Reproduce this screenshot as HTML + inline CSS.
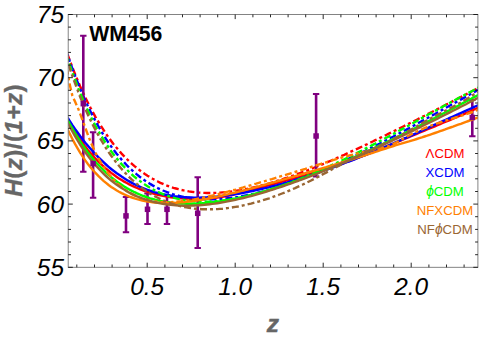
<!DOCTYPE html>
<html><head><meta charset="utf-8"><style>
html,body{margin:0;padding:0;background:#fff;}
svg{display:block;font-family:"Liberation Sans",sans-serif;}
.tl{font-size:24.4px;font-style:italic;fill:#000;}
.lg{font-size:13.2px;}
.up{font-style:normal;}
.ax{font-size:24.5px;font-style:italic;font-weight:bold;fill:#666;}
</style></head><body>
<svg width="480" height="338" viewBox="0 0 480 338">
<rect width="480" height="338" fill="#fff"/>
<defs><clipPath id="c"><rect x="68.2" y="14.5" width="409.7" height="252.8"/></clipPath></defs>
<g clip-path="url(#c)">
<path d="M67.2,53.4 L69.8,60.6 L72.4,67.4 L75.0,73.9 L77.6,80.2 L80.1,86.2 L82.7,92.0 L85.3,97.5 L87.9,102.7 L90.5,107.8 L93.1,112.6 L95.7,117.3 L98.3,121.7 L100.9,125.9 L103.5,129.9 L106.0,133.8 L108.6,137.5 L111.2,141.0 L113.8,144.4 L116.4,147.6 L119.0,150.6 L121.6,153.6 L124.2,156.3 L126.8,159.0 L129.3,161.5 L131.9,163.8 L134.5,166.1 L137.1,168.2 L139.7,170.3 L142.3,172.2 L144.9,174.0 L147.5,175.7 L150.1,177.3 L152.6,178.8 L155.2,180.2 L157.8,181.5 L160.4,182.8 L163.0,183.9 L165.6,185.0 L168.2,186.0 L170.8,186.9 L173.4,187.8 L176.0,188.5 L178.5,189.2 L181.1,189.9 L183.7,190.4 L186.3,190.9 L188.9,191.4 L191.5,191.8 L194.1,192.1 L196.7,192.4 L199.3,192.6 L201.8,192.8 L204.4,192.9 L207.0,193.0 L209.6,193.0 L212.2,193.0 L214.8,192.9 L217.4,192.8 L220.0,192.6 L222.6,192.4 L225.1,192.2 L227.7,192.0 L230.3,191.6 L232.9,191.3 L235.5,190.9 L238.1,190.5 L240.7,190.1 L243.3,189.6 L245.9,189.1 L248.5,188.6 L251.0,188.0 L253.6,187.4 L256.2,186.8 L258.8,186.2 L261.4,185.5 L264.0,184.8 L266.6,184.1 L269.2,183.4 L271.8,182.6 L274.3,181.8 L276.9,181.0 L279.5,180.2 L282.1,179.4 L284.7,178.5 L287.3,177.7 L289.9,176.8 L292.5,175.9 L295.1,174.9 L297.6,174.0 L300.2,173.0 L302.8,172.0 L305.4,171.1 L308.0,170.1 L310.6,169.0 L313.2,168.0 L315.8,167.0 L318.4,165.9 L321.0,164.8 L323.5,163.8 L326.1,162.7 L328.7,161.6 L331.3,160.5 L333.9,159.3 L336.5,158.2 L339.1,157.1 L341.7,155.9 L344.3,154.8 L346.8,153.6 L349.4,152.4 L352.0,151.2 L354.6,150.0 L357.2,148.8 L359.8,147.6 L362.4,146.4 L365.0,145.2 L367.6,144.0 L370.1,142.7 L372.7,141.5 L375.3,140.2 L377.9,139.0 L380.5,137.7 L383.1,136.5 L385.7,135.2 L388.3,133.9 L390.9,132.7 L393.5,131.4 L396.0,130.1 L398.6,128.8 L401.2,127.5 L403.8,126.2 L406.4,124.9 L409.0,123.6 L411.6,122.3 L414.2,121.0 L416.8,119.7 L419.3,118.4 L421.9,117.1 L424.5,115.8 L427.1,114.4 L429.7,113.1 L432.3,111.8 L434.9,110.5 L437.5,109.1 L440.1,107.8 L442.6,106.5 L445.2,105.1 L447.8,103.8 L450.4,102.4 L453.0,101.1 L455.6,99.8 L458.2,98.4 L460.8,97.1 L463.4,95.7 L466.0,94.4 L468.5,93.0 L471.1,91.7 L473.7,90.3 L476.3,89.0 L478.9,87.7" fill="none" stroke="#ff0000" stroke-width="2.4" stroke-dasharray="7 3 3 3" stroke-dashoffset="0.0"/>
<path d="M67.2,53.7 L69.8,61.3 L72.4,68.6 L75.0,75.6 L77.6,82.3 L80.1,88.6 L82.7,94.7 L85.3,100.6 L87.9,106.2 L90.5,111.5 L93.1,116.6 L95.7,121.5 L98.3,126.2 L100.9,130.6 L103.5,134.9 L106.0,138.9 L108.6,142.8 L111.2,146.5 L113.8,150.0 L116.4,153.4 L119.0,156.5 L121.6,159.6 L124.2,162.4 L126.8,165.2 L129.3,167.8 L131.9,170.2 L134.5,172.5 L137.1,174.7 L139.7,176.8 L142.3,178.7 L144.9,180.5 L147.5,182.2 L150.1,183.9 L152.6,185.4 L155.2,186.8 L157.8,188.1 L160.4,189.3 L163.0,190.5 L165.6,191.5 L168.2,192.5 L170.8,193.4 L173.4,194.3 L176.0,195.0 L178.5,195.7 L181.1,196.3 L183.7,196.9 L186.3,197.4 L188.9,197.8 L191.5,198.2 L194.1,198.5 L196.7,198.8 L199.3,199.0 L201.8,199.2 L204.4,199.3 L207.0,199.3 L209.6,199.3 L212.2,199.3 L214.8,199.2 L217.4,199.1 L220.0,199.0 L222.6,198.8 L225.1,198.6 L227.7,198.3 L230.3,198.0 L232.9,197.6 L235.5,197.3 L238.1,196.9 L240.7,196.4 L243.3,195.9 L245.9,195.4 L248.5,194.9 L251.0,194.4 L253.6,193.8 L256.2,193.2 L258.8,192.5 L261.4,191.9 L264.0,191.2 L266.6,190.5 L269.2,189.7 L271.8,189.0 L274.3,188.2 L276.9,187.4 L279.5,186.6 L282.1,185.8 L284.7,184.9 L287.3,184.0 L289.9,183.1 L292.5,182.2 L295.1,181.3 L297.6,180.3 L300.2,179.4 L302.8,178.4 L305.4,177.4 L308.0,176.4 L310.6,175.4 L313.2,174.3 L315.8,173.3 L318.4,172.2 L321.0,171.1 L323.5,170.0 L326.1,168.9 L328.7,167.8 L331.3,166.7 L333.9,165.5 L336.5,164.4 L339.1,163.2 L341.7,162.0 L344.3,160.8 L346.8,159.6 L349.4,158.4 L352.0,157.2 L354.6,156.0 L357.2,154.7 L359.8,153.5 L362.4,152.2 L365.0,151.0 L367.6,149.7 L370.1,148.4 L372.7,147.1 L375.3,145.8 L377.9,144.5 L380.5,143.2 L383.1,141.9 L385.7,140.5 L388.3,139.2 L390.9,137.8 L393.5,136.5 L396.0,135.1 L398.6,133.7 L401.2,132.4 L403.8,131.0 L406.4,129.6 L409.0,128.2 L411.6,126.8 L414.2,125.4 L416.8,124.0 L419.3,122.5 L421.9,121.1 L424.5,119.7 L427.1,118.3 L429.7,116.8 L432.3,115.4 L434.9,114.0 L437.5,112.5 L440.1,111.1 L442.6,109.6 L445.2,108.2 L447.8,106.8 L450.4,105.3 L453.0,103.9 L455.6,102.4 L458.2,101.0 L460.8,99.6 L463.4,98.1 L466.0,96.7 L468.5,95.2 L471.1,93.8 L473.7,92.4 L476.3,90.9 L478.9,89.4" fill="none" stroke="#0000ff" stroke-width="2.4" stroke-dasharray="7 3 3 3" stroke-dashoffset="4.5"/>
<path d="M83.3,35.8 V171.8" stroke="#800080" stroke-width="2.6" fill="none"/><path d="M80.1,35.8 h6.4 M80.1,171.8 h6.4" stroke="#800080" stroke-width="2" fill="none"/>
<path d="M93.1,132.2 V197.7" stroke="#800080" stroke-width="2.6" fill="none"/><path d="M89.9,132.2 h6.4 M89.9,197.7 h6.4" stroke="#800080" stroke-width="2" fill="none"/>
<path d="M126.0,197.0 V232.2" stroke="#800080" stroke-width="2.6" fill="none"/><path d="M122.8,197.0 h6.4 M122.8,232.2 h6.4" stroke="#800080" stroke-width="2" fill="none"/>
<path d="M147.5,193.5 V224.0" stroke="#800080" stroke-width="2.6" fill="none"/><path d="M144.3,193.5 h6.4 M144.3,224.0 h6.4" stroke="#800080" stroke-width="2" fill="none"/>
<path d="M167.0,195.0 V224.0" stroke="#800080" stroke-width="2.6" fill="none"/><path d="M163.8,195.0 h6.4 M163.8,224.0 h6.4" stroke="#800080" stroke-width="2" fill="none"/>
<path d="M197.7,177.2 V248.1" stroke="#800080" stroke-width="2.6" fill="none"/><path d="M194.5,177.2 h6.4 M194.5,248.1 h6.4" stroke="#800080" stroke-width="2" fill="none"/>
<path d="M316.1,94.1 V176.5" stroke="#800080" stroke-width="2.6" fill="none"/><path d="M312.9,94.1 h6.4 M312.9,176.5 h6.4" stroke="#800080" stroke-width="2" fill="none"/>
<path d="M472.3,100.0 V136.3" stroke="#800080" stroke-width="2.6" fill="none"/><path d="M469.1,100.0 h6.4 M469.1,136.3 h6.4" stroke="#800080" stroke-width="2" fill="none"/>
<path d="M67.2,118.3 L69.8,123.0 L72.4,127.4 L75.0,131.6 L77.6,135.7 L80.1,139.5 L82.7,143.1 L85.3,146.6 L87.9,149.9 L90.5,153.0 L93.1,156.0 L95.7,158.8 L98.3,161.5 L100.9,164.0 L103.5,166.4 L106.0,168.7 L108.6,170.8 L111.2,172.9 L113.8,174.8 L116.4,176.7 L119.0,178.4 L121.6,180.0 L124.2,181.6 L126.8,183.0 L129.3,184.4 L131.9,185.7 L134.5,186.9 L137.1,188.0 L139.7,189.1 L142.3,190.1 L144.9,191.0 L147.5,191.9 L150.1,192.7 L152.6,193.4 L155.2,194.1 L157.8,194.8 L160.4,195.4 L163.0,195.9 L165.6,196.4 L168.2,196.8 L170.8,197.2 L173.4,197.6 L176.0,197.9 L178.5,198.2 L181.1,198.4 L183.7,198.6 L186.3,198.8 L188.9,198.9 L191.5,199.0 L194.1,199.0 L196.7,199.0 L199.3,198.9 L201.8,198.8 L204.4,198.7 L207.0,198.5 L209.6,198.3 L212.2,198.1 L214.8,197.8 L217.4,197.5 L220.0,197.1 L222.6,196.7 L225.1,196.3 L227.7,195.8 L230.3,195.3 L232.9,194.8 L235.5,194.2 L238.1,193.5 L240.7,192.9 L243.3,192.2 L245.9,191.5 L248.5,190.8 L251.0,190.1 L253.6,189.4 L256.2,188.7 L258.8,188.0 L261.4,187.3 L264.0,186.6 L266.6,185.9 L269.2,185.2 L271.8,184.5 L274.3,183.8 L276.9,183.1 L279.5,182.4 L282.1,181.7 L284.7,181.0 L287.3,180.2 L289.9,179.5 L292.5,178.8 L295.1,178.1 L297.6,177.4 L300.2,176.6 L302.8,175.9 L305.4,175.2 L308.0,174.4 L310.6,173.7 L313.2,172.9 L315.8,172.1 L318.4,171.3 L321.0,170.5 L323.5,169.7 L326.1,168.9 L328.7,168.1 L331.3,167.3 L333.9,166.4 L336.5,165.5 L339.1,164.7 L341.7,163.8 L344.3,162.9 L346.8,161.9 L349.4,161.0 L352.0,160.0 L354.6,159.1 L357.2,158.1 L359.8,157.1 L362.4,156.1 L365.0,155.1 L367.6,154.1 L370.1,153.1 L372.7,152.0 L375.3,151.0 L377.9,150.0 L380.5,148.9 L383.1,147.8 L385.7,146.8 L388.3,145.7 L390.9,144.6 L393.5,143.6 L396.0,142.5 L398.6,141.4 L401.2,140.3 L403.8,139.2 L406.4,138.1 L409.0,137.1 L411.6,136.0 L414.2,134.9 L416.8,133.8 L419.3,132.7 L421.9,131.6 L424.5,130.6 L427.1,129.5 L429.7,128.4 L432.3,127.3 L434.9,126.3 L437.5,125.2 L440.1,124.1 L442.6,123.0 L445.2,122.0 L447.8,120.9 L450.4,119.8 L453.0,118.7 L455.6,117.6 L458.2,116.5 L460.8,115.4 L463.4,114.3 L466.0,113.1 L468.5,112.0 L471.1,110.8 L473.7,109.7 L476.3,108.6 L478.9,107.4" fill="none" stroke="#ff0000" stroke-width="2.4"/>
<path d="M67.2,117.0 L69.8,121.1 L72.4,125.1 L75.0,128.9 L77.6,132.5 L80.1,136.0 L82.7,139.4 L85.3,142.7 L87.9,145.8 L90.5,148.8 L93.1,151.7 L95.7,154.5 L98.3,157.2 L100.9,159.7 L103.5,162.2 L106.0,164.5 L108.6,166.8 L111.2,169.0 L113.8,171.0 L116.4,173.0 L119.0,174.8 L121.6,176.6 L124.2,178.3 L126.8,179.9 L129.3,181.4 L131.9,182.9 L134.5,184.2 L137.1,185.5 L139.7,186.7 L142.3,187.8 L144.9,188.8 L147.5,189.8 L150.1,190.7 L152.6,191.5 L155.2,192.3 L157.8,193.0 L160.4,193.7 L163.0,194.3 L165.6,194.8 L168.2,195.3 L170.8,195.7 L173.4,196.1 L176.0,196.4 L178.5,196.7 L181.1,197.0 L183.7,197.2 L186.3,197.3 L188.9,197.5 L191.5,197.5 L194.1,197.6 L196.7,197.6 L199.3,197.6 L201.8,197.5 L204.4,197.4 L207.0,197.3 L209.6,197.1 L212.2,196.9 L214.8,196.7 L217.4,196.5 L220.0,196.2 L222.6,195.9 L225.1,195.6 L227.7,195.3 L230.3,194.9 L232.9,194.5 L235.5,194.1 L238.1,193.7 L240.7,193.3 L243.3,192.8 L245.9,192.3 L248.5,191.8 L251.0,191.3 L253.6,190.8 L256.2,190.2 L258.8,189.6 L261.4,189.0 L264.0,188.4 L266.6,187.8 L269.2,187.2 L271.8,186.5 L274.3,185.8 L276.9,185.2 L279.5,184.5 L282.1,183.8 L284.7,183.0 L287.3,182.3 L289.9,181.5 L292.5,180.8 L295.1,180.0 L297.6,179.2 L300.2,178.4 L302.8,177.6 L305.4,176.8 L308.0,176.0 L310.6,175.1 L313.2,174.3 L315.8,173.4 L318.4,172.5 L321.0,171.6 L323.5,170.7 L326.1,169.8 L328.7,168.9 L331.3,168.0 L333.9,167.1 L336.5,166.1 L339.1,165.2 L341.7,164.2 L344.3,163.2 L346.8,162.2 L349.4,161.3 L352.0,160.3 L354.6,159.3 L357.2,158.2 L359.8,157.2 L362.4,156.2 L365.0,155.2 L367.6,154.1 L370.1,153.1 L372.7,152.0 L375.3,150.9 L377.9,149.9 L380.5,148.8 L383.1,147.7 L385.7,146.6 L388.3,145.5 L390.9,144.4 L393.5,143.3 L396.0,142.1 L398.6,141.0 L401.2,139.9 L403.8,138.7 L406.4,137.6 L409.0,136.4 L411.6,135.3 L414.2,134.1 L416.8,133.0 L419.3,131.8 L421.9,130.6 L424.5,129.4 L427.1,128.3 L429.7,127.1 L432.3,125.9 L434.9,124.7 L437.5,123.6 L440.1,122.4 L442.6,121.2 L445.2,120.0 L447.8,118.9 L450.4,117.7 L453.0,116.5 L455.6,115.3 L458.2,114.2 L460.8,113.0 L463.4,111.8 L466.0,110.7 L468.5,109.5 L471.1,108.4 L473.7,107.2 L476.3,106.0 L478.9,104.8" fill="none" stroke="#0000ff" stroke-width="2.4"/>
<path d="M67.2,119.2 L69.8,124.1 L72.4,128.7 L75.0,133.2 L77.6,137.4 L80.1,141.4 L82.7,145.3 L85.3,149.0 L87.9,152.5 L90.5,155.8 L93.1,158.9 L95.7,162.0 L98.3,164.8 L100.9,167.5 L103.5,170.1 L106.0,172.6 L108.6,174.9 L111.2,177.1 L113.8,179.2 L116.4,181.2 L119.0,183.1 L121.6,184.8 L124.2,186.5 L126.8,188.1 L129.3,189.5 L131.9,190.9 L134.5,192.2 L137.1,193.4 L139.7,194.5 L142.3,195.6 L144.9,196.5 L147.5,197.4 L150.1,198.3 L152.6,199.0 L155.2,199.7 L157.8,200.3 L160.4,200.9 L163.0,201.4 L165.6,201.9 L168.2,202.3 L170.8,202.6 L173.4,202.9 L176.0,203.2 L178.5,203.4 L181.1,203.5 L183.7,203.6 L186.3,203.7 L188.9,203.7 L191.5,203.7 L194.1,203.6 L196.7,203.6 L199.3,203.4 L201.8,203.3 L204.4,203.1 L207.0,202.9 L209.6,202.6 L212.2,202.3 L214.8,202.0 L217.4,201.6 L220.0,201.3 L222.6,200.9 L225.1,200.4 L227.7,200.0 L230.3,199.5 L232.9,199.0 L235.5,198.5 L238.1,197.9 L240.7,197.4 L243.3,196.8 L245.9,196.2 L248.5,195.5 L251.0,194.9 L253.6,194.2 L256.2,193.5 L258.8,192.8 L261.4,192.1 L264.0,191.4 L266.6,190.6 L269.2,189.8 L271.8,189.0 L274.3,188.2 L276.9,187.4 L279.5,186.6 L282.1,185.7 L284.7,184.8 L287.3,184.0 L289.9,183.1 L292.5,182.2 L295.1,181.2 L297.6,180.3 L300.2,179.4 L302.8,178.4 L305.4,177.4 L308.0,176.5 L310.6,175.5 L313.2,174.5 L315.8,173.4 L318.4,172.4 L321.0,171.4 L323.5,170.3 L326.1,169.3 L328.7,168.2 L331.3,167.1 L333.9,166.1 L336.5,165.0 L339.1,163.9 L341.7,162.8 L344.3,161.6 L346.8,160.5 L349.4,159.4 L352.0,158.2 L354.6,157.1 L357.2,155.9 L359.8,154.7 L362.4,153.6 L365.0,152.4 L367.6,151.2 L370.1,150.0 L372.7,148.8 L375.3,147.6 L377.9,146.3 L380.5,145.1 L383.1,143.9 L385.7,142.6 L388.3,141.4 L390.9,140.1 L393.5,138.9 L396.0,137.6 L398.6,136.3 L401.2,135.0 L403.8,133.7 L406.4,132.4 L409.0,131.1 L411.6,129.8 L414.2,128.5 L416.8,127.2 L419.3,125.9 L421.9,124.6 L424.5,123.2 L427.1,121.9 L429.7,120.6 L432.3,119.2 L434.9,117.9 L437.5,116.5 L440.1,115.2 L442.6,113.8 L445.2,112.5 L447.8,111.1 L450.4,109.8 L453.0,108.4 L455.6,107.0 L458.2,105.7 L460.8,104.3 L463.4,102.9 L466.0,101.5 L468.5,100.1 L471.1,98.8 L473.7,97.4 L476.3,96.0 L478.9,94.6" fill="none" stroke="#00ff00" stroke-width="2.4"/>
<path d="M67.2,57.1 L69.8,64.9 L72.4,72.4 L75.0,79.5 L77.6,86.4 L80.1,92.9 L82.7,99.1 L85.3,105.0 L87.9,110.7 L90.5,116.1 L93.1,121.3 L95.7,126.2 L98.3,130.9 L100.9,135.3 L103.5,139.6 L106.0,143.7 L108.6,147.5 L111.2,151.2 L113.8,154.7 L116.4,158.0 L119.0,161.1 L121.6,164.1 L124.2,166.9 L126.8,169.6 L129.3,172.1 L131.9,174.5 L134.5,176.8 L137.1,178.9 L139.7,180.9 L142.3,182.8 L144.9,184.6 L147.5,186.2 L150.1,187.8 L152.6,189.2 L155.2,190.6 L157.8,191.9 L160.4,193.0 L163.0,194.1 L165.6,195.1 L168.2,196.0 L170.8,196.8 L173.4,197.6 L176.0,198.3 L178.5,198.9 L181.1,199.4 L183.7,199.9 L186.3,200.3 L188.9,200.7 L191.5,201.0 L194.1,201.2 L196.7,201.4 L199.3,201.5 L201.8,201.6 L204.4,201.7 L207.0,201.6 L209.6,201.6 L212.2,201.5 L214.8,201.3 L217.4,201.1 L220.0,200.9 L222.6,200.6 L225.1,200.3 L227.7,199.9 L230.3,199.5 L232.9,199.1 L235.5,198.7 L238.1,198.2 L240.7,197.7 L243.3,197.1 L245.9,196.5 L248.5,195.9 L251.0,195.3 L253.6,194.6 L256.2,193.9 L258.8,193.2 L261.4,192.5 L264.0,191.7 L266.6,190.9 L269.2,190.1 L271.8,189.3 L274.3,188.4 L276.9,187.6 L279.5,186.7 L282.1,185.8 L284.7,184.8 L287.3,183.9 L289.9,182.9 L292.5,181.9 L295.1,180.9 L297.6,179.9 L300.2,178.9 L302.8,177.8 L305.4,176.8 L308.0,175.7 L310.6,174.6 L313.2,173.5 L315.8,172.4 L318.4,171.3 L321.0,170.1 L323.5,169.0 L326.1,167.8 L328.7,166.6 L331.3,165.4 L333.9,164.2 L336.5,163.0 L339.1,161.8 L341.7,160.5 L344.3,159.3 L346.8,158.0 L349.4,156.7 L352.0,155.5 L354.6,154.2 L357.2,152.9 L359.8,151.6 L362.4,150.3 L365.0,148.9 L367.6,147.6 L370.1,146.3 L372.7,144.9 L375.3,143.6 L377.9,142.2 L380.5,140.8 L383.1,139.4 L385.7,138.0 L388.3,136.7 L390.9,135.3 L393.5,133.9 L396.0,132.4 L398.6,131.0 L401.2,129.6 L403.8,128.2 L406.4,126.8 L409.0,125.3 L411.6,123.9 L414.2,122.5 L416.8,121.0 L419.3,119.6 L421.9,118.1 L424.5,116.7 L427.1,115.3 L429.7,113.8 L432.3,112.4 L434.9,111.0 L437.5,109.6 L440.1,108.1 L442.6,106.7 L445.2,105.3 L447.8,103.9 L450.4,102.5 L453.0,101.1 L455.6,99.7 L458.2,98.3 L460.8,96.9 L463.4,95.6 L466.0,94.2 L468.5,92.9 L471.1,91.5 L473.7,90.2 L476.3,88.7 L478.9,87.3" fill="none" stroke="#00ff00" stroke-width="2.4" stroke-dasharray="7 3 3 3" stroke-dashoffset="9.0"/>
<path d="M67.2,128.3 L69.8,133.9 L72.4,139.0 L75.0,143.9 L77.6,148.4 L80.1,152.7 L82.7,156.7 L85.3,160.4 L87.9,163.9 L90.5,167.2 L93.1,170.3 L95.7,173.2 L98.3,175.9 L100.9,178.4 L103.5,180.8 L106.0,182.9 L108.6,185.0 L111.2,186.9 L113.8,188.6 L116.4,190.2 L119.0,191.7 L121.6,193.1 L124.2,194.4 L126.8,195.5 L129.3,196.6 L131.9,197.5 L134.5,198.4 L137.1,199.2 L139.7,199.9 L142.3,200.5 L144.9,201.1 L147.5,201.5 L150.1,201.9 L152.6,202.3 L155.2,202.5 L157.8,202.7 L160.4,202.9 L163.0,203.0 L165.6,203.0 L168.2,203.0 L170.8,203.0 L173.4,202.9 L176.0,202.8 L178.5,202.6 L181.1,202.4 L183.7,202.2 L186.3,201.9 L188.9,201.6 L191.5,201.3 L194.1,200.9 L196.7,200.5 L199.3,200.1 L201.8,199.7 L204.4,199.2 L207.0,198.8 L209.6,198.3 L212.2,197.8 L214.8,197.2 L217.4,196.7 L220.0,196.1 L222.6,195.5 L225.1,194.9 L227.7,194.3 L230.3,193.7 L232.9,193.1 L235.5,192.5 L238.1,191.8 L240.7,191.2 L243.3,190.5 L245.9,189.8 L248.5,189.1 L251.0,188.5 L253.6,187.8 L256.2,187.1 L258.8,186.4 L261.4,185.7 L264.0,185.0 L266.6,184.2 L269.2,183.5 L271.8,182.8 L274.3,182.1 L276.9,181.4 L279.5,180.6 L282.1,179.9 L284.7,179.2 L287.3,178.4 L289.9,177.7 L292.5,177.0 L295.1,176.2 L297.6,175.5 L300.2,174.7 L302.8,174.0 L305.4,173.2 L308.0,172.5 L310.6,171.7 L313.2,171.0 L315.8,170.2 L318.4,169.5 L321.0,168.7 L323.5,167.9 L326.1,167.2 L328.7,166.4 L331.3,165.6 L333.9,164.8 L336.5,164.1 L339.1,163.3 L341.7,162.5 L344.3,161.7 L346.8,160.9 L349.4,160.1 L352.0,159.3 L354.6,158.5 L357.2,157.7 L359.8,156.9 L362.4,156.1 L365.0,155.3 L367.6,154.4 L370.1,153.6 L372.7,152.8 L375.3,151.9 L377.9,151.1 L380.5,150.2 L383.1,149.4 L385.7,148.5 L388.3,147.7 L390.9,146.9 L393.5,146.0 L396.0,145.2 L398.6,144.4 L401.2,143.7 L403.8,142.9 L406.4,142.1 L409.0,141.4 L411.6,140.6 L414.2,139.8 L416.8,139.0 L419.3,138.2 L421.9,137.4 L424.5,136.5 L427.1,135.7 L429.7,134.8 L432.3,133.9 L434.9,133.0 L437.5,132.1 L440.1,131.2 L442.6,130.3 L445.2,129.4 L447.8,128.4 L450.4,127.5 L453.0,126.6 L455.6,125.6 L458.2,124.7 L460.8,123.8 L463.4,122.8 L466.0,121.9 L468.5,121.0 L471.1,120.0 L473.7,119.1 L476.3,118.2 L478.9,117.3" fill="none" stroke="#ff8000" stroke-width="2.4"/>
<path d="M67.2,70.1 L69.8,84.9 L72.4,95.8 L75.0,101.6 L77.6,107.2 L80.1,113.6 L82.7,120.6 L85.3,127.8 L87.9,134.9 L90.5,141.6 L93.1,147.6 L95.7,153.1 L98.3,158.1 L100.9,162.6 L103.5,166.7 L106.0,170.4 L108.6,173.8 L111.2,177.0 L113.8,179.9 L116.4,182.6 L119.0,185.0 L121.6,187.2 L124.2,189.2 L126.8,191.0 L129.3,192.7 L131.9,194.1 L134.5,195.5 L137.1,196.6 L139.7,197.7 L142.3,198.6 L144.9,199.4 L147.5,200.0 L150.1,200.6 L152.6,201.1 L155.2,201.4 L157.8,201.7 L160.4,201.9 L163.0,202.1 L165.6,202.1 L168.2,202.1 L170.8,202.1 L173.4,201.9 L176.0,201.8 L178.5,201.5 L181.1,201.3 L183.7,201.0 L186.3,200.6 L188.9,200.2 L191.5,199.8 L194.1,199.4 L196.7,198.9 L199.3,198.4 L201.8,197.9 L204.4,197.3 L207.0,196.8 L209.6,196.2 L212.2,195.6 L214.8,195.0 L217.4,194.3 L220.0,193.7 L222.6,193.0 L225.1,192.3 L227.7,191.7 L230.3,191.0 L232.9,190.3 L235.5,189.6 L238.1,188.8 L240.7,188.1 L243.3,187.4 L245.9,186.6 L248.5,185.9 L251.0,185.2 L253.6,184.4 L256.2,183.7 L258.8,182.9 L261.4,182.1 L264.0,181.4 L266.6,180.6 L269.2,179.8 L271.8,179.1 L274.3,178.3 L276.9,177.5 L279.5,176.7 L282.1,175.9 L284.7,175.2 L287.3,174.4 L289.9,173.6 L292.5,172.8 L295.1,172.0 L297.6,171.2 L300.2,170.4 L302.8,169.6 L305.4,168.8 L308.0,167.9 L310.6,167.1 L313.2,166.3 L315.8,165.5 L318.4,164.7 L321.0,163.9 L323.5,163.1 L326.1,162.3 L328.7,161.5 L331.3,160.7 L333.9,159.9 L336.5,159.1 L339.1,158.4 L341.7,157.6 L344.3,156.9 L346.8,156.2 L349.4,155.5 L352.0,154.8 L354.6,154.1 L357.2,153.5 L359.8,152.9 L362.4,152.3 L365.0,151.7 L367.6,151.1 L370.1,150.6 L372.7,150.1 L375.3,149.6 L377.9,149.1 L380.5,148.5 L383.1,147.8 L385.7,147.1 L388.3,146.2 L390.9,145.1 L393.5,143.9 L396.0,142.6 L398.6,141.2 L401.2,139.8 L403.8,138.3 L406.4,136.9 L409.0,135.5 L411.6,134.1 L414.2,132.8 L416.8,131.6 L419.3,130.4 L421.9,129.3 L424.5,128.2 L427.1,127.2 L429.7,126.2 L432.3,125.2 L434.9,124.3 L437.5,123.3 L440.1,122.5 L442.6,121.6 L445.2,120.7 L447.8,119.9 L450.4,119.1 L453.0,118.3 L455.6,117.5 L458.2,116.7 L460.8,115.8 L463.4,115.0 L466.0,114.2 L468.5,113.4 L471.1,112.5 L473.7,111.6 L476.3,110.5 L478.9,109.4" fill="none" stroke="#ff8000" stroke-width="2.4" stroke-dasharray="7 3 3 3" stroke-dashoffset="2.5"/>
<path d="M67.2,121.7 L69.8,126.7 L72.4,131.5 L75.0,136.1 L77.6,140.5 L80.1,144.6 L82.7,148.5 L85.3,152.3 L87.9,155.8 L90.5,159.2 L93.1,162.4 L95.7,165.4 L98.3,168.3 L100.9,171.0 L103.5,173.6 L106.0,176.0 L108.6,178.3 L111.2,180.5 L113.8,182.5 L116.4,184.5 L119.0,186.3 L121.6,188.0 L124.2,189.6 L126.8,191.2 L129.3,192.6 L131.9,193.9 L134.5,195.1 L137.1,196.3 L139.7,197.4 L142.3,198.4 L144.9,199.3 L147.5,200.1 L150.1,200.9 L152.6,201.6 L155.2,202.3 L157.8,202.8 L160.4,203.4 L163.0,203.8 L165.6,204.2 L168.2,204.6 L170.8,204.9 L173.4,205.1 L176.0,205.3 L178.5,205.5 L181.1,205.6 L183.7,205.7 L186.3,205.7 L188.9,205.7 L191.5,205.6 L194.1,205.5 L196.7,205.4 L199.3,205.2 L201.8,205.0 L204.4,204.8 L207.0,204.5 L209.6,204.2 L212.2,203.9 L214.8,203.6 L217.4,203.2 L220.0,202.8 L222.6,202.3 L225.1,201.9 L227.7,201.4 L230.3,200.9 L232.9,200.3 L235.5,199.8 L238.1,199.2 L240.7,198.6 L243.3,198.0 L245.9,197.3 L248.5,196.6 L251.0,196.0 L253.6,195.3 L256.2,194.5 L258.8,193.8 L261.4,193.1 L264.0,192.3 L266.6,191.5 L269.2,190.7 L271.8,189.9 L274.3,189.1 L276.9,188.2 L279.5,187.4 L282.1,186.5 L284.7,185.6 L287.3,184.7 L289.9,183.8 L292.5,182.9 L295.1,181.9 L297.6,181.0 L300.2,180.0 L302.8,179.1 L305.4,178.1 L308.0,177.1 L310.6,176.1 L313.2,175.1 L315.8,174.1 L318.4,173.1 L321.0,172.0 L323.5,171.0 L326.1,169.9 L328.7,168.9 L331.3,167.8 L333.9,166.7 L336.5,165.6 L339.1,164.5 L341.7,163.4 L344.3,162.3 L346.8,161.2 L349.4,160.1 L352.0,158.9 L354.6,157.8 L357.2,156.7 L359.8,155.5 L362.4,154.4 L365.0,153.2 L367.6,152.0 L370.1,150.9 L372.7,149.7 L375.3,148.5 L377.9,147.3 L380.5,146.1 L383.1,144.9 L385.7,143.7 L388.3,142.5 L390.9,141.3 L393.5,140.0 L396.0,138.8 L398.6,137.6 L401.2,136.3 L403.8,135.1 L406.4,133.9 L409.0,132.6 L411.6,131.4 L414.2,130.1 L416.8,128.8 L419.3,127.6 L421.9,126.3 L424.5,125.0 L427.1,123.7 L429.7,122.5 L432.3,121.2 L434.9,119.9 L437.5,118.6 L440.1,117.3 L442.6,116.0 L445.2,114.7 L447.8,113.4 L450.4,112.1 L453.0,110.8 L455.6,109.5 L458.2,108.1 L460.8,106.8 L463.4,105.5 L466.0,104.2 L468.5,102.8 L471.1,101.5 L473.7,100.2 L476.3,98.8 L478.9,97.5" fill="none" stroke="#996633" stroke-width="2.4"/>
<path d="M67.2,60.7 L69.8,68.5 L72.4,76.0 L75.0,83.2 L77.6,90.1 L80.1,96.7 L82.7,103.0 L85.3,109.0 L87.9,114.7 L90.5,120.2 L93.1,125.4 L95.7,130.4 L98.3,135.2 L100.9,139.7 L103.5,144.0 L106.0,148.1 L108.6,152.0 L111.2,155.7 L113.8,159.3 L116.4,162.6 L119.0,165.8 L121.6,168.9 L124.2,171.8 L126.8,174.5 L129.3,177.1 L131.9,179.6 L134.5,181.9 L137.1,184.1 L139.7,186.2 L142.3,188.2 L144.9,190.1 L147.5,191.8 L150.1,193.5 L152.6,195.0 L155.2,196.5 L157.8,197.8 L160.4,199.1 L163.0,200.3 L165.6,201.4 L168.2,202.4 L170.8,203.3 L173.4,204.2 L176.0,205.0 L178.5,205.7 L181.1,206.3 L183.7,206.9 L186.3,207.4 L188.9,207.9 L191.5,208.2 L194.1,208.6 L196.7,208.8 L199.3,209.0 L201.8,209.2 L204.4,209.3 L207.0,209.3 L209.6,209.3 L212.2,209.3 L214.8,209.2 L217.4,209.1 L220.0,208.9 L222.6,208.7 L225.1,208.4 L227.7,208.1 L230.3,207.7 L232.9,207.3 L235.5,206.9 L238.1,206.5 L240.7,206.0 L243.3,205.4 L245.9,204.9 L248.5,204.2 L251.0,203.6 L253.6,202.9 L256.2,202.2 L258.8,201.5 L261.4,200.7 L264.0,199.9 L266.6,199.1 L269.2,198.3 L271.8,197.4 L274.3,196.4 L276.9,195.5 L279.5,194.5 L282.1,193.5 L284.7,192.5 L287.3,191.4 L289.9,190.3 L292.5,189.2 L295.1,188.1 L297.6,186.9 L300.2,185.7 L302.8,184.5 L305.4,183.3 L308.0,182.0 L310.6,180.7 L313.2,179.4 L315.8,178.0 L318.4,176.7 L321.0,175.3 L323.5,173.9 L326.1,172.6 L328.7,171.2 L331.3,169.8 L333.9,168.4 L336.5,167.0 L339.1,165.6 L341.7,164.2 L344.3,162.8 L346.8,161.4 L349.4,160.1 L352.0,158.7 L354.6,157.4 L357.2,156.1 L359.8,154.8 L362.4,153.6 L365.0,152.3 L367.6,151.1 L370.1,150.0 L372.7,148.8 L375.3,147.6 L377.9,146.5 L380.5,145.3 L383.1,144.1 L385.7,142.9 L388.3,141.7 L390.9,140.4 L393.5,139.1 L396.0,137.8 L398.6,136.4 L401.2,135.0 L403.8,133.6 L406.4,132.1 L409.0,130.7 L411.6,129.2 L414.2,127.7 L416.8,126.3 L419.3,124.8 L421.9,123.3 L424.5,121.8 L427.1,120.4 L429.7,119.0 L432.3,117.6 L434.9,116.2 L437.5,114.8 L440.1,113.5 L442.6,112.2 L445.2,110.8 L447.8,109.5 L450.4,108.1 L453.0,106.8 L455.6,105.4 L458.2,104.0 L460.8,102.5 L463.4,101.0 L466.0,99.5 L468.5,97.9 L471.1,96.2 L473.7,94.6 L476.3,93.2 L478.9,91.8" fill="none" stroke="#996633" stroke-width="2.4" stroke-dasharray="7 3 3 3" stroke-dashoffset="11.5"/>
<rect x="80.55" y="100.95" width="5.5" height="5.5" fill="#800080"/>
<rect x="90.35" y="160.75" width="5.5" height="5.5" fill="#800080"/>
<rect x="123.25" y="213.15" width="5.5" height="5.5" fill="#800080"/>
<rect x="144.75" y="206.55" width="5.5" height="5.5" fill="#800080"/>
<rect x="164.25" y="206.55" width="5.5" height="5.5" fill="#800080"/>
<rect x="194.95" y="210.55" width="5.5" height="5.5" fill="#800080"/>
<rect x="313.35" y="133.25" width="5.5" height="5.5" fill="#800080"/>
<rect x="469.55" y="114.75" width="5.5" height="5.5" fill="#800080"/>
</g>
<rect x="68.2" y="14.5" width="409.7" height="252.8" fill="none" stroke="#777" stroke-width="0.9"/>
<path d="M76.8,267.3 v-2.8 M76.8,14.5 v2.8 M94.5,267.3 v-2.8 M94.5,14.5 v2.8 M112.1,267.3 v-2.8 M112.1,14.5 v2.8 M129.7,267.3 v-2.8 M129.7,14.5 v2.8 M147.2,267.3 v-4.6 M147.2,14.5 v4.6 M164.9,267.3 v-2.8 M164.9,14.5 v2.8 M182.5,267.3 v-2.8 M182.5,14.5 v2.8 M200.1,267.3 v-2.8 M200.1,14.5 v2.8 M217.7,267.3 v-2.8 M217.7,14.5 v2.8 M235.2,267.3 v-4.6 M235.2,14.5 v4.6 M252.9,267.3 v-2.8 M252.9,14.5 v2.8 M270.5,267.3 v-2.8 M270.5,14.5 v2.8 M288.1,267.3 v-2.8 M288.1,14.5 v2.8 M305.7,267.3 v-2.8 M305.7,14.5 v2.8 M323.2,267.3 v-4.6 M323.2,14.5 v4.6 M340.9,267.3 v-2.8 M340.9,14.5 v2.8 M358.5,267.3 v-2.8 M358.5,14.5 v2.8 M376.1,267.3 v-2.8 M376.1,14.5 v2.8 M393.7,267.3 v-2.8 M393.7,14.5 v2.8 M411.2,267.3 v-4.6 M411.2,14.5 v4.6 M428.9,267.3 v-2.8 M428.9,14.5 v2.8 M446.5,267.3 v-2.8 M446.5,14.5 v2.8 M464.1,267.3 v-2.8 M464.1,14.5 v2.8 M68.2,267.3 h4.6 M477.9,267.3 h-4.6 M68.2,254.7 h2.8 M477.9,254.7 h-2.8 M68.2,242.0 h2.8 M477.9,242.0 h-2.8 M68.2,229.4 h2.8 M477.9,229.4 h-2.8 M68.2,216.7 h2.8 M477.9,216.7 h-2.8 M68.2,204.1 h4.6 M477.9,204.1 h-4.6 M68.2,191.5 h2.8 M477.9,191.5 h-2.8 M68.2,178.8 h2.8 M477.9,178.8 h-2.8 M68.2,166.2 h2.8 M477.9,166.2 h-2.8 M68.2,153.5 h2.8 M477.9,153.5 h-2.8 M68.2,140.9 h4.6 M477.9,140.9 h-4.6 M68.2,128.3 h2.8 M477.9,128.3 h-2.8 M68.2,115.6 h2.8 M477.9,115.6 h-2.8 M68.2,103.0 h2.8 M477.9,103.0 h-2.8 M68.2,90.3 h2.8 M477.9,90.3 h-2.8 M68.2,77.7 h4.6 M477.9,77.7 h-4.6 M68.2,65.1 h2.8 M477.9,65.1 h-2.8 M68.2,52.4 h2.8 M477.9,52.4 h-2.8 M68.2,39.8 h2.8 M477.9,39.8 h-2.8 M68.2,27.1 h2.8 M477.9,27.1 h-2.8 M68.2,14.5 h4.6 M477.9,14.5 h-4.6" stroke="#111" stroke-width="0.9" fill="none"/>
<text x="64" y="275.7" text-anchor="end" class="tl">55</text>
<text x="64" y="212.5" text-anchor="end" class="tl">60</text>
<text x="64" y="149.3" text-anchor="end" class="tl">65</text>
<text x="64" y="86.1" text-anchor="end" class="tl">70</text>
<text x="64" y="22.9" text-anchor="end" class="tl">75</text>
<text x="147.2" y="294.6" text-anchor="middle" class="tl">0.5</text>
<text x="235.2" y="294.6" text-anchor="middle" class="tl">1.0</text>
<text x="323.2" y="294.6" text-anchor="middle" class="tl">1.5</text>
<text x="411.2" y="294.6" text-anchor="middle" class="tl">2.0</text>
<text x="445" y="158.4" text-anchor="middle" class="lg" fill="#ff0000">ΛCDM</text>
<text x="445" y="177.4" text-anchor="middle" class="lg" fill="#0000ff">XCDM</text>
<text x="445" y="196.4" text-anchor="middle" class="lg" fill="#00ff00"><tspan font-style="italic" font-size="13.8">ϕ</tspan>CDM</text>
<text x="445" y="215.2" text-anchor="middle" class="lg" fill="#ff8000">NFXCDM</text>
<text x="445" y="233.7" text-anchor="middle" class="lg" fill="#996633">NF<tspan font-style="italic" font-size="13.8">ϕ</tspan>CDM</text>
<text x="89.3" y="41" font-size="21.2" font-weight="bold" fill="#000">WM456</text>
<text class="ax" stroke="#666" stroke-width="0.4" x="272.8" y="332.2" text-anchor="middle">z</text>
<text class="ax" stroke="#666" stroke-width="0.3" transform="translate(22.2,140.4) rotate(-90)" text-anchor="middle" letter-spacing="0.3">H<tspan class="up">(</tspan>z<tspan class="up">)/(</tspan>1+z<tspan class="up">)</tspan></text>
</svg>
</body></html>
